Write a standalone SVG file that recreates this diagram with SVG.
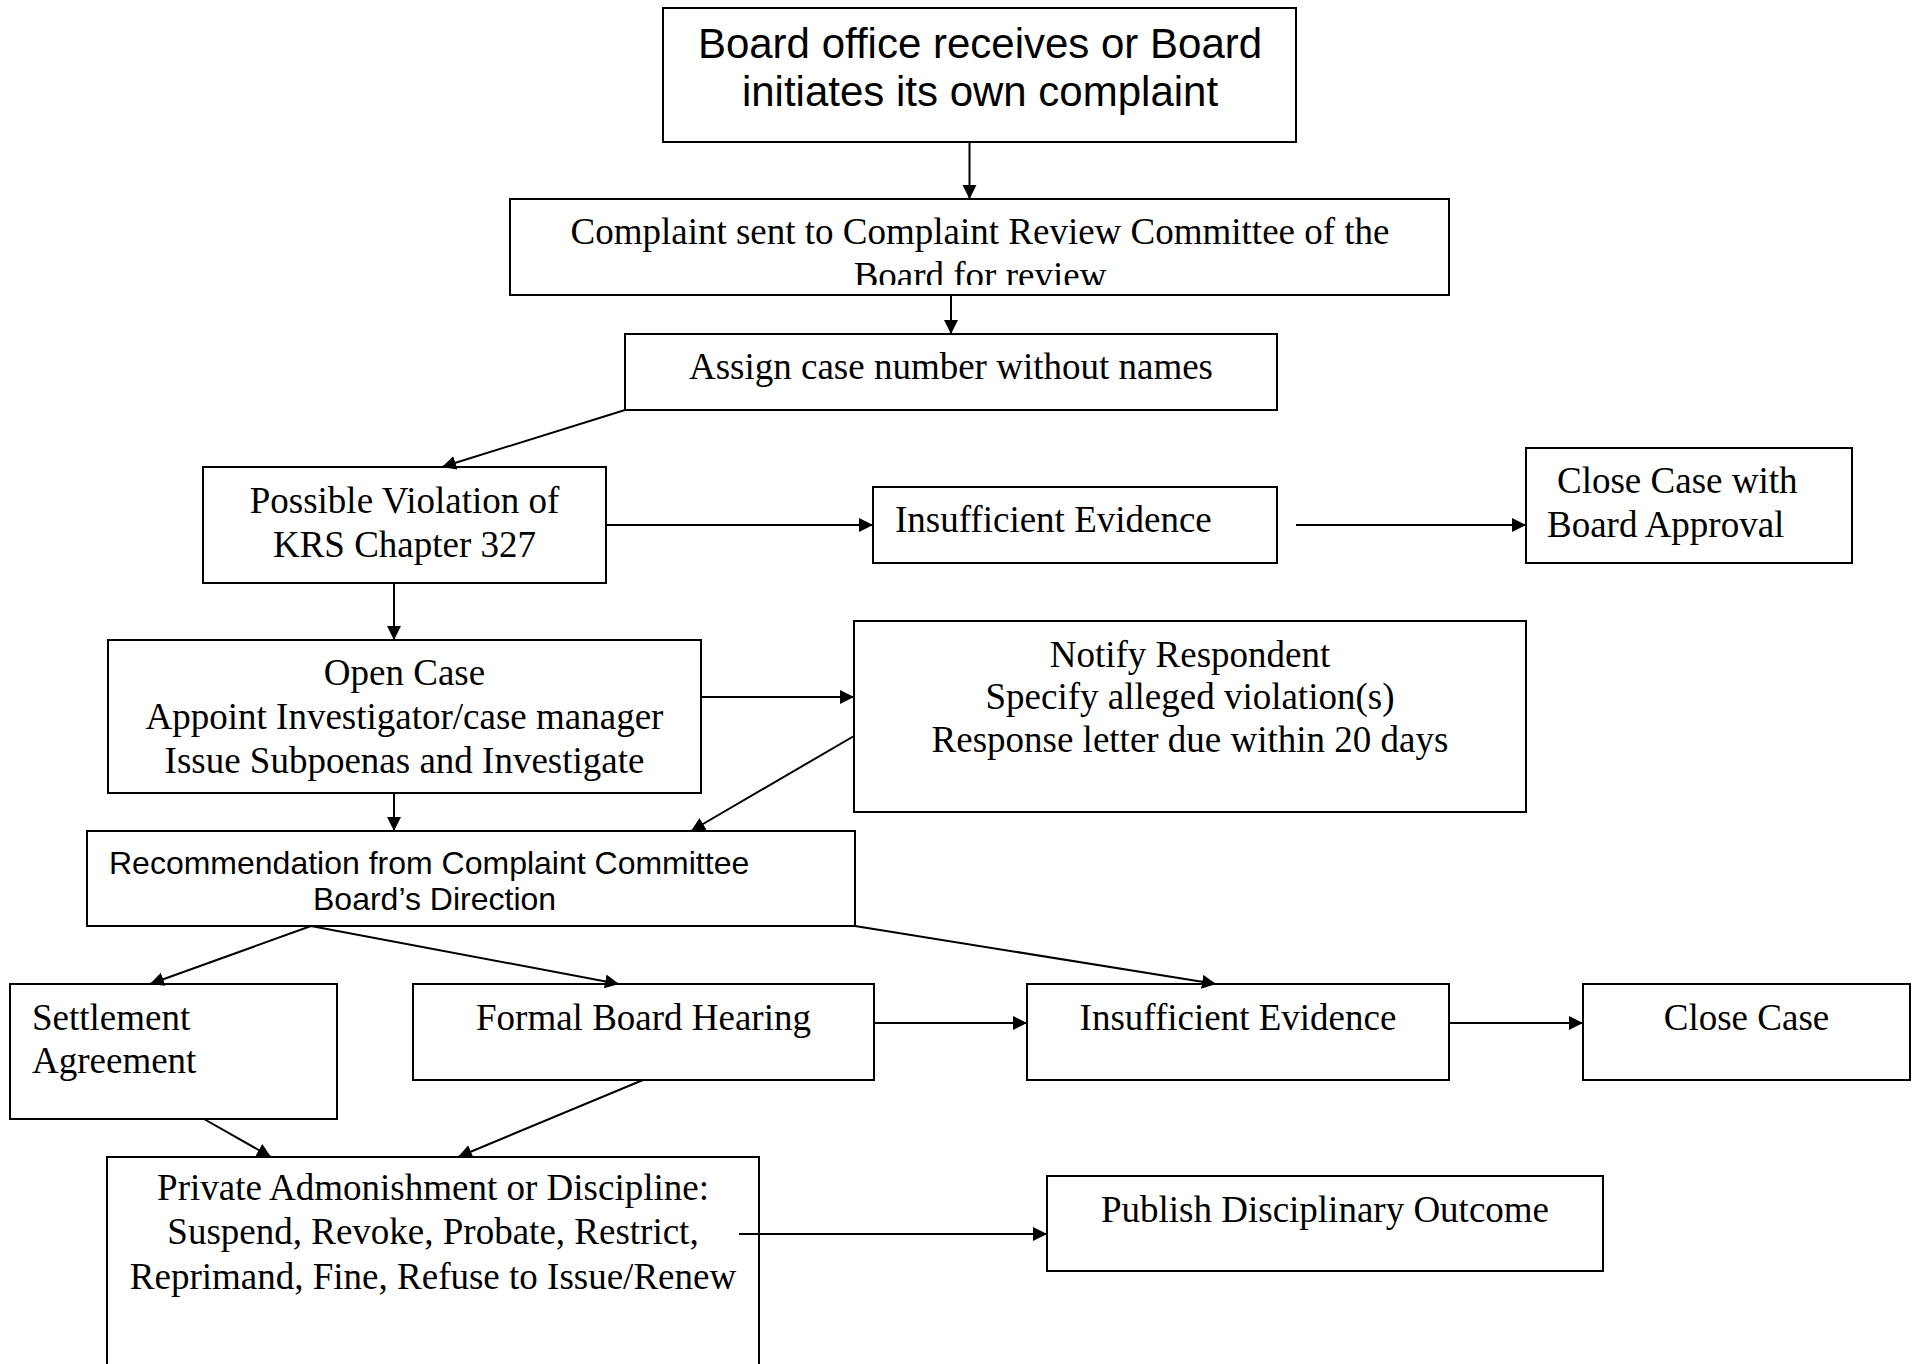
<svg xmlns="http://www.w3.org/2000/svg" width="1921" height="1364" viewBox="0 0 1921 1364">
<style>
.box{fill:#fff;stroke:#000;stroke-width:2}
.t{font-family:"Liberation Serif","Times New Roman",serif;font-size:37px;fill:#000}
.a{font-family:"Liberation Sans",Arial,sans-serif;fill:#000}
.c{text-anchor:middle}
.ln{stroke:#000;stroke-width:2;fill:none;marker-end:url(#ah)}
</style>
<defs>
<marker id="ah" markerUnits="userSpaceOnUse" markerWidth="15" markerHeight="15" refX="14" refY="7" orient="auto" viewBox="0 0 15 15">
<path d="M0,0 L14,7 L0,14 z" fill="#000"/>
</marker>
<clipPath id="clip2"><rect x="510" y="199" width="940" height="86"/></clipPath>
</defs>
<rect width="1921" height="1364" fill="#fff"/>

<g id="n1">
<rect class="box" x="663" y="8" width="633" height="134"/>
<text class="a c" font-size="42" x="980" y="58">Board office receives or Board</text>
<text class="a c" font-size="42" x="980" y="106">initiates its own complaint</text>
</g>

<g id="n2">
<rect class="box" x="510" y="199" width="939" height="96"/>
<g clip-path="url(#clip2)">
<text class="t c" x="980" y="244">Complaint sent to Complaint Review Committee of the</text>
<text class="t c" x="980" y="288">Board for review</text>
</g>
</g>

<g id="n3">
<rect class="box" x="625" y="334" width="652" height="76"/>
<text class="t c" x="951" y="379">Assign case number without names</text>
</g>

<g id="n4">
<rect class="box" x="203" y="467" width="403" height="116"/>
<text class="t c" x="404.5" y="513">Possible Violation of</text>
<text class="t c" x="404.5" y="557">KRS Chapter 327</text>
</g>

<g id="n5">
<rect class="box" x="873" y="487" width="404" height="76"/>
<text class="t" x="895" y="532">Insufficient Evidence</text>
</g>

<g id="n6">
<rect class="box" x="1526" y="448" width="326" height="115"/>
<text class="t" x="1557" y="493">Close Case with</text>
<text class="t" x="1547" y="537">Board Approval</text>
</g>

<g id="n7">
<rect class="box" x="108" y="640" width="593" height="153"/>
<text class="t c" x="404.5" y="685">Open Case</text>
<text class="t c" x="404.5" y="729">Appoint Investigator/case manager</text>
<text class="t c" x="404.5" y="773">Issue Subpoenas and Investigate</text>
</g>

<g id="n8">
<rect class="box" x="854" y="621" width="672" height="191"/>
<text class="t c" x="1190" y="667">Notify Respondent</text>
<text class="t c" x="1190" y="709">Specify alleged violation(s)</text>
<text class="t c" x="1190" y="752">Response letter due within 20 days</text>
</g>

<g id="n9">
<rect class="box" x="87" y="831" width="768" height="95"/>
<text class="a" font-size="32" x="109" y="874">Recommendation from Complaint Committee</text>
<text class="a" font-size="32" x="313" y="910">Board’s Direction</text>
</g>

<g id="n10">
<rect class="box" x="10" y="984" width="327" height="135"/>
<text class="t" x="32" y="1030">Settlement</text>
<text class="t" x="32" y="1073">Agreement</text>
</g>

<g id="n11">
<rect class="box" x="413" y="984" width="461" height="96"/>
<text class="t c" x="643.5" y="1030">Formal Board Hearing</text>
</g>

<g id="n12">
<rect class="box" x="1027" y="984" width="422" height="96"/>
<text class="t c" x="1238" y="1030">Insufficient Evidence</text>
</g>

<g id="n13">
<rect class="box" x="1583" y="984" width="327" height="96"/>
<text class="t c" x="1746.5" y="1030">Close Case</text>
</g>

<g id="n14">
<rect class="box" x="107" y="1157" width="652" height="240"/>
<text class="t c" x="433" y="1200">Private Admonishment or Discipline:</text>
<text class="t c" x="433" y="1244">Suspend, Revoke, Probate, Restrict,</text>
<text class="t c" x="433" y="1289">Reprimand, Fine, Refuse to Issue/Renew</text>
</g>

<g id="n15">
<rect class="box" x="1047" y="1176" width="556" height="95"/>
<text class="t c" x="1325" y="1222">Publish Disciplinary Outcome</text>
</g>

<g id="connectors">
<line class="ln" x1="969.5" y1="142" x2="969.5" y2="199"/>
<line class="ln" x1="951" y1="295" x2="951" y2="334"/>
<line class="ln" x1="625" y1="410" x2="442" y2="467"/>
<line class="ln" x1="606" y1="525" x2="873" y2="525"/>
<line class="ln" x1="1296" y1="525" x2="1526" y2="525"/>
<line class="ln" x1="394" y1="583" x2="394" y2="640"/>
<line class="ln" x1="701" y1="697" x2="854" y2="697"/>
<line class="ln" x1="854" y1="736" x2="691" y2="831"/>
<line class="ln" x1="394" y1="793" x2="394" y2="831"/>
<line class="ln" x1="311" y1="926" x2="150" y2="984"/>
<line class="ln" x1="311" y1="926" x2="619" y2="984"/>
<line class="ln" x1="855" y1="926" x2="1216" y2="984"/>
<line class="ln" x1="874" y1="1023" x2="1027" y2="1023"/>
<line class="ln" x1="1449" y1="1023" x2="1583" y2="1023"/>
<line class="ln" x1="204" y1="1119" x2="271" y2="1157"/>
<line class="ln" x1="643" y1="1080" x2="458" y2="1157"/>
<line class="ln" x1="739" y1="1234" x2="1047" y2="1234"/>
</g>
</svg>
